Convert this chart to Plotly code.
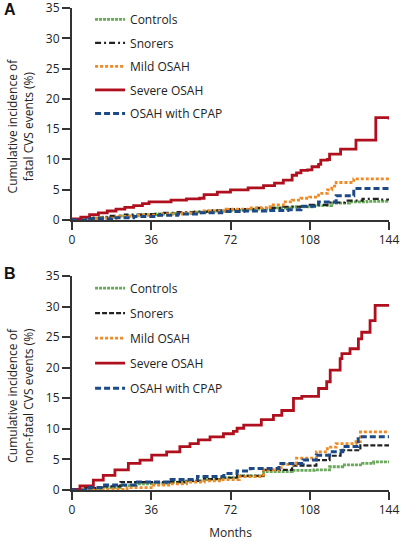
import plotly.graph_objects as go

# ---------------- data (months, cumulative incidence %) ----------------
tick_vals = [0, 36, 72, 108, 144]
y_ticks = [0, 5, 10, 15, 20, 25, 30, 35]
names = ["Controls", "Snorers", "Mild OSAH", "Severe OSAH", "OSAH with CPAP"]

# Panel A: fatal CVS events
a_controls_m = [0, 6, 14, 22, 30, 38, 46, 54, 62, 70, 80, 90, 100, 110, 118, 126, 134, 144]
a_controls_v = [0, 0.3, 0.5, 0.7, 0.9, 1.0, 1.1, 1.3, 1.5, 1.6, 1.8, 2.0, 2.2, 2.4, 2.8, 3.0, 3.1, 3.1]
a_snorers_m = [0, 8, 16, 24, 32, 40, 48, 56, 64, 72, 84, 96, 108, 116, 124, 132, 140, 144]
a_snorers_v = [0, 0.4, 0.7, 0.9, 1.0, 1.2, 1.3, 1.4, 1.6, 1.8, 2.0, 2.2, 2.5, 2.9, 3.2, 3.5, 3.4, 3.4]
a_mild_m = [0, 10, 20, 30, 40, 50, 60, 70, 80, 90, 96, 100, 104, 108, 112, 116, 118, 120, 128, 144]
a_mild_v = [0, 0.3, 0.6, 0.8, 1.0, 1.2, 1.5, 1.8, 2.0, 2.5, 3.0, 3.3, 3.6, 3.8, 4.4, 5.0, 5.6, 6.2, 6.8, 6.8]
a_severe_m = [0, 4, 8, 12, 16, 20, 24, 28, 32, 35, 45, 52, 58, 60, 66, 72, 80, 87, 92, 96, 100,
              102, 104, 107, 109, 112, 113, 116, 117, 122, 129, 138, 144]
a_severe_v = [0.2, 0.5, 0.9, 1.2, 1.5, 1.8, 2.1, 2.4, 2.7, 3.0, 3.3, 3.5, 3.6, 4.2, 4.6, 5.0, 5.3, 5.7, 6.1,
              6.6, 7.4, 7.8, 8.2, 8.3, 8.8, 9.2, 9.9, 10.0, 10.9, 11.7, 13.2, 16.9, 16.6]
a_cpap_m = [0, 8, 18, 28, 38, 48, 58, 68, 78, 88, 98, 104, 112, 120, 128, 144]
a_cpap_v = [0, 0.2, 0.4, 0.6, 0.8, 1.0, 1.2, 1.4, 1.5, 1.6, 1.7, 2.3, 3.0, 4.0, 5.2, 5.2]

# Panel B: non-fatal CVS events
b_controls_m = [0, 8, 14, 22, 29, 37, 44, 52, 60, 68, 75, 87, 100, 110, 117, 123, 132, 137, 144]
b_controls_v = [0, 0.2, 0.4, 0.7, 1.0, 1.1, 1.3, 1.5, 1.7, 2.0, 2.3, 3.0, 3.2, 3.3, 3.8, 4.1, 4.35, 4.6, 4.6]
b_snorers_m = [0, 6, 14, 22, 37, 52, 60, 67, 75, 87, 100, 111, 117, 122, 131, 144]
b_snorers_v = [0, 0.3, 0.6, 1.3, 1.3, 1.5, 1.8, 2.0, 2.3, 3.3, 4.0, 4.9, 5.6, 6.5, 7.3, 7.3]
b_mild_m = [0, 14, 25, 37, 45, 52, 60, 67, 76, 87, 95, 102, 111, 116, 120, 129, 131, 144]
b_mild_v = [0, 0.1, 0.4, 0.8, 1.0, 1.3, 1.5, 1.7, 2.2, 3.3, 4.2, 5.2, 6.25, 7.0, 7.6, 7.9, 9.5, 9.5]
b_severe_m = [0, 3.6, 9.7, 14.2, 19.5, 25.6, 30.9, 36.2, 43, 49, 53.6, 57.4, 62.7, 68.8, 73.3, 75, 78,
              86, 91.5, 95.3, 100.6, 104.4, 112, 115.7, 117.3, 121.8, 122.6, 126.3, 130.1, 131.6,
              135.4, 137.7, 144]
b_severe_v = [0.1, 0.65, 1.6, 2.4, 3.3, 4.35, 4.9, 5.7, 6.25, 7.1, 7.6, 8.2, 8.7, 9.2, 9.6, 10.1, 10.6,
              11.5, 12.2, 13.0, 15.0, 15.3, 16.6, 17.7, 19.6, 21.5, 22.3, 23.1, 24.7, 25.8,
              27.7, 30.2, 30.2]
b_cpap_m = [0, 8, 14, 29, 44, 57, 69, 75, 81, 94, 105, 111, 117, 123, 130, 144]
b_cpap_v = [0, 0.4, 0.8, 1.3, 1.7, 2.2, 2.7, 3.1, 3.5, 4.35, 4.9, 5.7, 6.25, 7.1, 8.7, 8.7]

# ---------------- styles ----------------
colors = ["#6aa85a", "#222222", "#f08a24", "#b0101e", "#1d4a86"]
dashes_a = ["3px,1px", "6px,3px,2px,3px", "3px,2px", "solid", "6px,3px"]
dashes_b = ["3px,1px", "5px,2px", "3px,2px", "solid", "6px,3px"]
widths = [2.8, 2.2, 2.8, 2.8, 3.0]

panel_a = [(a_controls_m, a_controls_v), (a_snorers_m, a_snorers_v), (a_mild_m, a_mild_v),
           (a_severe_m, a_severe_v), (a_cpap_m, a_cpap_v)]
panel_b = [(b_controls_m, b_controls_v), (b_snorers_m, b_snorers_v), (b_mild_m, b_mild_v),
           (b_severe_m, b_severe_v), (b_cpap_m, b_cpap_v)]

fig = go.Figure()
for i, (m, v) in enumerate(panel_a):
    fig.add_trace(go.Scatter(x=m, y=v, mode="lines", name=names[i], line_shape="hv",
                             line=dict(color=colors[i], width=widths[i], dash=dashes_a[i]),
                             xaxis="x", yaxis="y", legend="legend", legendgroup="a%d" % i))
for i, (m, v) in enumerate(panel_b):
    fig.add_trace(go.Scatter(x=m, y=v, mode="lines", name=names[i], line_shape="hv",
                             line=dict(color=colors[i], width=widths[i], dash=dashes_b[i]),
                             xaxis="x2", yaxis="y2", legend="legend2", legendgroup="b%d" % i))

font_family = "Open Sans, Lato, sans-serif"
axis_common = dict(showline=True, linewidth=2, linecolor="#333333", ticks="outside", ticklen=8,
                   tickwidth=2, tickcolor="#333333", showgrid=False, zeroline=False,
                   automargin=False, ticklabeloverflow="allow",
                   tickfont=dict(size=12, color="#222222", family=font_family))

fig.update_layout(
    width=404, height=541,
    margin=dict(l=72, r=15, t=8, b=51, autoexpand=False),
    plot_bgcolor="white", paper_bgcolor="white",
    font=dict(family=font_family, size=12, color="#222222"),
    xaxis=dict(domain=[0, 1], range=[0, 144], tickvals=tick_vals, anchor="y", **axis_common),
    yaxis=dict(domain=[0.560, 1], range=[0, 35], tickvals=y_ticks, anchor="x", **axis_common),
    xaxis2=dict(domain=[0, 1], range=[0, 144], tickvals=tick_vals, anchor="y2",
                title=dict(text="Months", font=dict(size=12), standoff=14), **axis_common),
    yaxis2=dict(domain=[0, 0.444], range=[0, 35], tickvals=y_ticks, anchor="x2", **axis_common),
    legend=dict(x=0.057, y=1.0064, xanchor="left", yanchor="top", bgcolor="rgba(0,0,0,0)",
                tracegroupgap=4.5, font=dict(size=12), itemwidth=30),
    legend2=dict(x=0.057, y=0.4488, xanchor="left", yanchor="top", bgcolor="rgba(0,0,0,0)",
                 tracegroupgap=6.0, font=dict(size=12), itemwidth=30),
    annotations=[
        dict(text="<b>A</b>", x=-0.222, y=0.9959, xref="paper", yref="paper", showarrow=False,
             xanchor="left", yanchor="middle", font=dict(size=16, family="Arial", color="#111")),
        dict(text="<b>B</b>", x=-0.222, y=0.450, xref="paper", yref="paper", showarrow=False,
             xanchor="left", yanchor="middle", font=dict(size=16, family="Arial", color="#111")),
        dict(text="Cumulative incidence of<br>fatal CVS events (%)", textangle=-90,
             x=-0.163, y=0.755, xref="paper", yref="paper", showarrow=False,
             xanchor="center", yanchor="middle", font=dict(size=12)),
        dict(text="Cumulative incidence of<br>non-fatal CVS events (%)", textangle=-90,
             x=-0.163, y=0.195, xref="paper", yref="paper", showarrow=False,
             xanchor="center", yanchor="middle", font=dict(size=12)),
    ],
)

fig.write_html("out.html", config={"displayModeBar": False},
               post_script="document.body.style.margin='0';document.body.style.overflow='hidden';")
